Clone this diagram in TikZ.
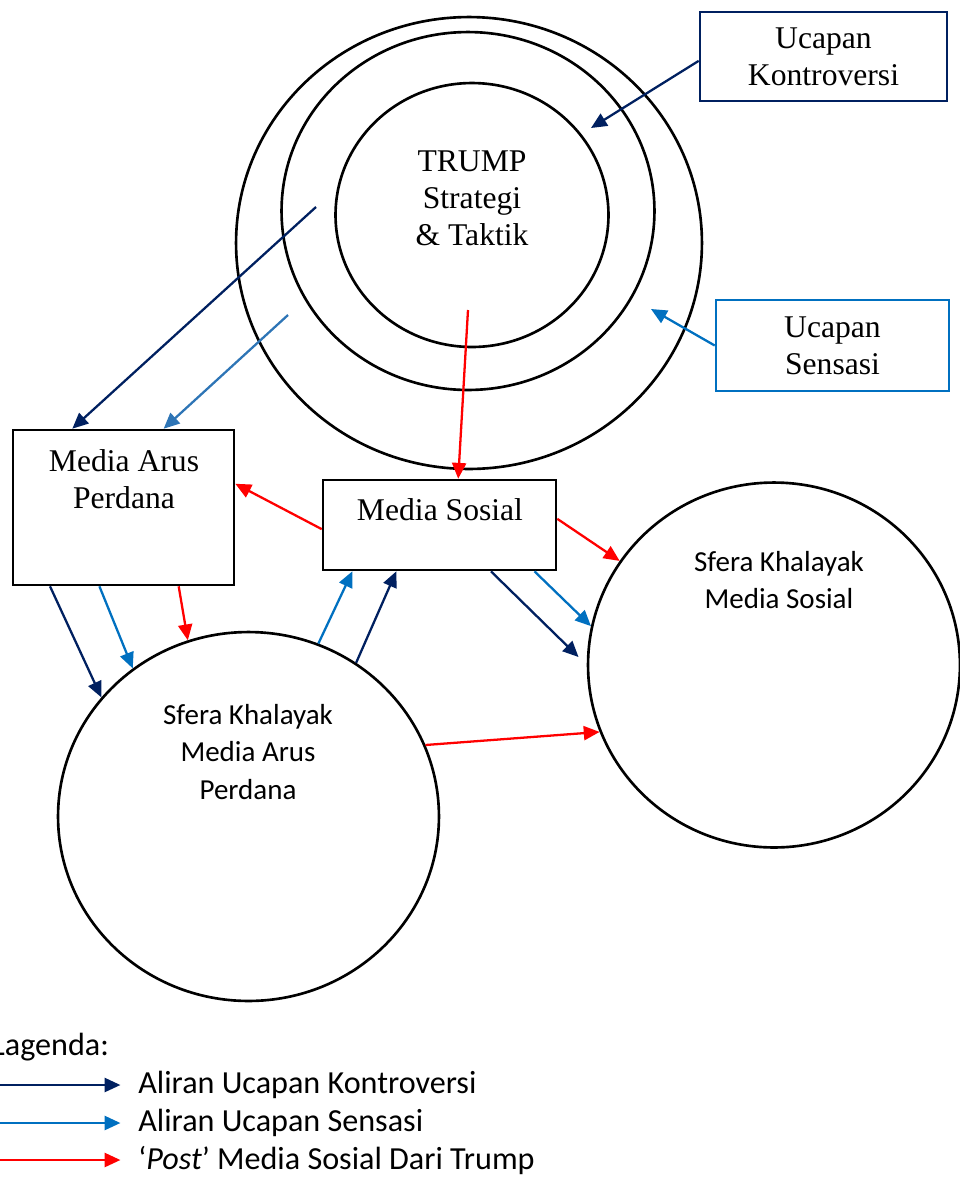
\documentclass[tikz,border=0pt]{standalone}
\usepackage{fontspec}
\setmainfont{Liberation Serif}
\newfontfamily\calibri{Carlito}
\usetikzlibrary{arrows.meta,shapes.geometric}
\definecolor{navy}{HTML}{002060}
\definecolor{biru}{HTML}{0070C0}
\definecolor{birumuda}{HTML}{2E75B6}
\begin{document}
\begin{tikzpicture}[x=0.02cm,y=-0.02cm,>={Triangle[length=9pt,width=8pt]},
	bulat/.style={draw,ellipse,line width=1.5pt,inner sep=0pt},
	kotak/.style={draw,line width=1.5pt,inner sep=0pt},
	teks/.style={font=\fontsize{18}{21}\selectfont,align=center},
	sans/.style={font=\calibri\fontsize{16.5}{21.5}\selectfont,align=center},
	leg/.style={font=\calibri\fontsize{18.3}{21.5}\selectfont,inner sep=0pt,anchor=west},
	alir/.style={->,line width=1.3pt}]
	\useasboundingbox (0,0) rectangle (960,1178);
	\node[bulat,minimum width=9.32cm,minimum height=9.04cm] (luar) at (469,243) {};
	\node[bulat,minimum width=7.46cm,minimum height=7.16cm] (tengah) at (468,211) {};
	\node[bulat,minimum width=5.46cm,minimum height=5.28cm] (dalam) at (472,215) {};
	\node[teks] (trump) at (472,198) {TRUMP\\Strategi\\\& Taktik};
	\node[kotak,draw=navy,teks,minimum width=4.94cm,minimum height=1.78cm] (kontro) at (823.5,56.5) {Ucapan\\Kontroversi};
	\node[kotak,draw=biru,teks,minimum width=4.66cm,minimum height=1.82cm] (sensasi) at (832.5,345.5) {Ucapan\\Sensasi};
	\node[kotak,minimum width=4.42cm,minimum height=3.1cm] (mediaAP) at (123.5,507.5) {};
	\node[teks] (tMediaAP) at (124,479) {Media Arus\\Perdana};
	\node[kotak,minimum width=4.66cm,minimum height=1.8cm] (mediaSos) at (439.5,525) {};
	\node[teks] (tMediaSos) at (440,510) {Media Sosial};
	\node[bulat,minimum width=7.62cm,minimum height=7.38cm] (sferaAP) at (248.5,816.5) {};
	\node[sans] (tSferaAP) at (248,752) {Sfera Khalayak\\Media Arus\\Perdana};
	\node[bulat,minimum width=7.44cm,minimum height=7.3cm] (sferaSos) at (774,665) {};
	\node[sans] (tSferaSos) at (779,580) {Sfera Khalayak\\Media Sosial};
	\coordinate (k0) at (591,128);
	\coordinate (s0) at (651,309);
	\coordinate (k1) at (316,207);
	\coordinate (s1) at (288,315);
	\coordinate (p1) at (468,310);
	\draw[alir,navy] (kontro.182) -- (k0);
	\draw[alir,biru] (sensasi.west) -- (s0);
	\draw[alir,navy] (k1) -- (mediaAP.123);
	\draw[alir,birumuda] (s1) -- (mediaAP.63);
	\draw[alir,red] (p1) -- (mediaSos.68);
	\draw[alir,red] (mediaSos.182) -- (mediaAP.12);
	\draw[alir,red] (mediaSos.3) -- (sferaSos.146);
	\draw[alir,navy,shorten >=6.5pt] (mediaSos.-42) -- (sferaSos.180);
	\draw[alir,biru] (mediaSos.-26) -- (sferaSos.168);
	\draw[alir,navy] (mediaAP.-133) -- (sferaAP.141);
	\draw[alir,biru] (mediaAP.-107) -- (sferaAP.128);
	\draw[alir,red] (mediaAP.-55) -- (sferaAP.109);
	\draw[alir,biru] (sferaAP.68) -- (mediaSos.-152);
	\draw[alir,navy] (sferaAP.55) -- (mediaSos.-133);
	\draw[alir,red] (sferaAP.22) -- (sferaSos.201);
	\node[leg] (lagenda) at (-9,1047) {Lagenda:};
	\node[leg] (l1) at (138,1085) {Aliran Ucapan Kontroversi};
	\node[leg] (l2) at (138,1123) {Aliran Ucapan Sensasi};
	\node[leg] (l3) at (138,1160) {‘\textit{Post}’ Media Sosial Dari Trump};
	\coordinate (a1) at (0,1085);
	\coordinate (a2) at (0,1123);
	\coordinate (a3) at (0,1160);
	\draw[alir,navy,shorten >=10pt] (a1) -- (a1 -| l1.west);
	\draw[alir,biru,shorten >=10pt] (a2) -- (a2 -| l2.west);
	\draw[alir,red,shorten >=10pt] (a3) -- (a3 -| l3.west);
\end{tikzpicture}
\end{document}
